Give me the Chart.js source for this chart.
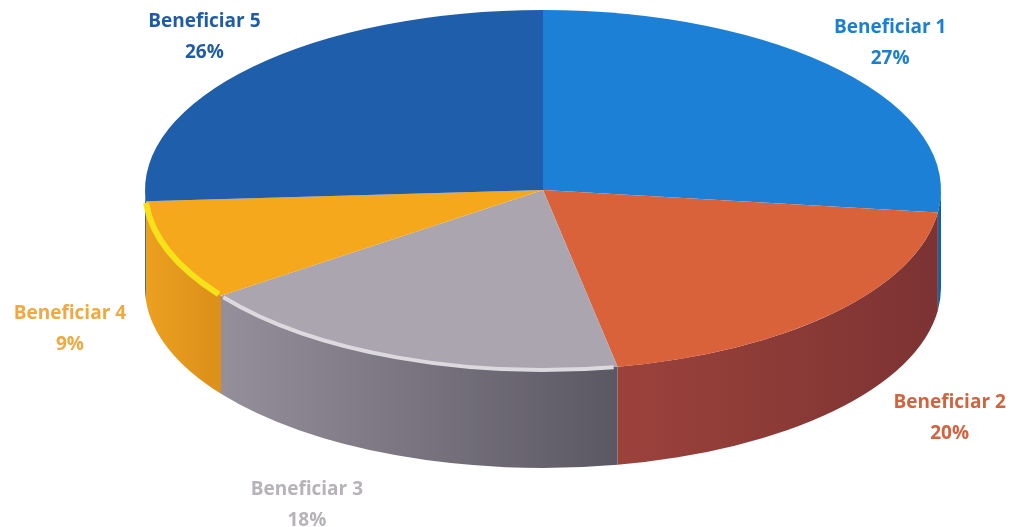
<!DOCTYPE html>
<html>
<head>
<meta charset="utf-8">
<script src="https://cdn.jsdelivr.net/npm/chart.js@4.4.1/dist/chart.umd.min.js"></script>
<style>
  html, body { margin: 0; padding: 0; background: #fff; }
  canvas { display: block; }
</style>
</head>
<body>
<canvas id="pieChart" width="1012" height="527"></canvas>
<script>
const labels = ["Beneficiar 1", "Beneficiar 2", "Beneficiar 3", "Beneficiar 4", "Beneficiar 5"];
const shares = [27, 20, 18, 9, 26];

const topColors = ["#1b80d6", "#d9623a", "#aaa5ae", "#f5a81c", "#1f5eab"];
const sideFrom = ["#1668b4", "#9c423b", "#948f9a", "#eca01f", "#1a4f90"];
const sideTo = ["#12599c", "#7c3333", "#5c5863", "#dc8f1a", "#164380"];
const rimColors = [null, null, "#dcd9df", "#f7e21a", null];
const rimWidths = [0, 0, 4, 6, 0];
const labelColors = ["#1a7fd0", "#d2633f", "#b6b2b8", "#f0a840", "#1f5ba6"];
// small tweaks so the labels sit where Excel put them
const labelNudge = [[-26, 1], [44, -24], [-53, 7], [-5, -36], [24, 1]];

// 3D look: ellipse scale and side depth
const RADIUS = 100;
const SX = 3.98;
const SY = 1.80;
const DEPTH = 98;

function ellipseArc(ctx, cx, cy, a1, a2, ccw) {
  ctx.save();
  ctx.translate(cx, cy);
  ctx.scale(SX, SY);
  ctx.arc(0, 0, RADIUS, a1, a2, ccw);
  ctx.restore();
}

const pie3d = {
  id: "pie3d",
  beforeDatasetsDraw(chart) {
    const ctx = chart.ctx;
    const arcs = chart.getDatasetMeta(0).data;
    // side walls, only the front half shows
    arcs.forEach((arc, i) => {
      const p = arc.getProps(["x", "y", "startAngle", "endAngle"]);
      const a1 = Math.max(p.startAngle, 0);
      const a2 = Math.min(p.endAngle, Math.PI);
      if (a1 >= a2) return;
      const xa = p.x + Math.cos(a1) * RADIUS * SX;
      const xb = p.x + Math.cos(a2) * RADIUS * SX;
      const grad = ctx.createLinearGradient(Math.min(xa, xb), 0, Math.max(xa, xb), 0);
      grad.addColorStop(0, sideFrom[i]);
      grad.addColorStop(1, sideTo[i]);
      ctx.beginPath();
      ellipseArc(ctx, p.x, p.y, a1, a2, false);
      ellipseArc(ctx, p.x, p.y + DEPTH, a2, a1, true);
      ctx.closePath();
      ctx.fillStyle = grad;
      ctx.fill();
    });
    const c = arcs[0];
    ctx.save();
    ctx.translate(c.x, c.y);
    ctx.scale(SX, SY);
    ctx.translate(-c.x, -c.y);
  },
  afterDatasetsDraw(chart) {
    const ctx = chart.ctx;
    ctx.restore();
    const arcs = chart.getDatasetMeta(0).data;
    const total = shares.reduce((a, b) => a + b, 0);

    // highlight rims on front edges
    arcs.forEach((arc, i) => {
      if (!rimColors[i]) return;
      const p = arc.getProps(["x", "y", "startAngle", "endAngle"]);
      ctx.beginPath();
      ellipseArc(ctx, p.x, p.y, p.startAngle + 0.01, p.endAngle - 0.01, false);
      ctx.strokeStyle = rimColors[i];
      ctx.lineWidth = rimWidths[i];
      ctx.stroke();
    });

    // data labels
    ctx.font = "bold 19px 'Open Sans', Lato, sans-serif";
    ctx.textAlign = "center";
    ctx.textBaseline = "middle";
    arcs.forEach((arc, i) => {
      const p = arc.getProps(["x", "y", "startAngle", "endAngle"]);
      const mid = (p.startAngle + p.endAngle) / 2;
      let lx = p.x + Math.cos(mid) * RADIUS * SX * 1.25 + labelNudge[i][0];
      let ly = p.y + Math.sin(mid) * RADIUS * SY * 1.25 + labelNudge[i][1];
      if (Math.sin(mid) > 0) ly += DEPTH;
      ctx.fillStyle = labelColors[i];
      ctx.fillText(labels[i], lx, ly - 15);
      ctx.fillText(Math.round(shares[i] / total * 100) + "%", lx, ly + 16);
    });
  }
};

new Chart(document.getElementById("pieChart").getContext("2d"), {
  type: "pie",
  data: {
    labels: labels,
    datasets: [{
      data: shares,
      backgroundColor: topColors,
      borderWidth: 0,
      radius: RADIUS
    }]
  },
  options: {
    responsive: false,
    animation: false,
    events: [],
    layout: { padding: { left: 74, right: 0, top: 0, bottom: 147 } },
    plugins: {
      legend: { display: false },
      tooltip: { enabled: false }
    }
  },
  plugins: [pie3d]
});
</script>
</body>
</html>
